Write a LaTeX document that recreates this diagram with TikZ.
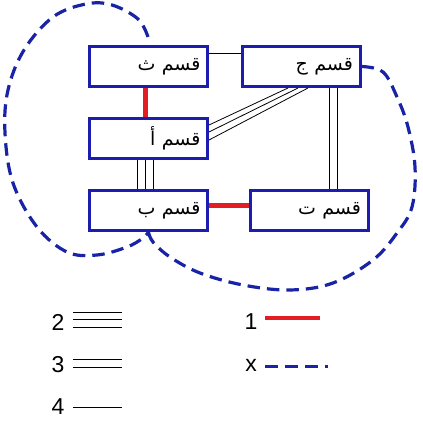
\documentclass[tikz,border=0pt]{standalone}
\usepackage{fontspec}
\setmainfont{Liberation Sans}
\newfontfamily\arabicfont[Script=Arabic]{DejaVu Sans}
\TeXXeTstate=1
\usetikzlibrary{calc}
\definecolor{boxblue}{RGB}{28,28,175}
\definecolor{dashblue}{RGB}{25,35,165}
\definecolor{linkred}{RGB}{228,28,36}
\begin{document}
\begin{tikzpicture}[x=1pt,y=1pt,
  secbox/.style={draw=boxblue,line width=3pt,minimum width=118pt,minimum height=40pt,
    inner sep=0pt,text width=104pt,align=right,font=\arabicfont\fontsize{19}{22}\selectfont},
  thin/.style={line width=0.8pt,black},
  redlink/.style={line width=5pt,linkred},
  dashlink/.style={dashblue,line width=3.2pt,dash pattern=on 12.5pt off 7pt},
  legnum/.style={font=\fontsize{23}{25}\selectfont,inner sep=0pt}]
\useasboundingbox (0,0) rectangle (423,426);
% sections
\node[secbox] (th) at (148.5,359.5) {\beginR قسم ث\endR};
\node[secbox] (jm) at (301,359.5) {\beginR قسم ج\endR};
\node[secbox] (al) at (148.5,287.5) {\beginR قسم أ\endR};
\node[secbox] (ba) at (148.5,215.5) {\beginR قسم ب\endR};
\node[secbox] (ta) at (309,215.5) {\beginR قسم ت\endR};
% single line th - jm
\draw[thin] ([yshift=13.5pt]th.east) -- ([yshift=13.5pt]jm.west);
% red links
\draw[redlink] ([xshift=-3.5pt]th.south) -- ([xshift=-3.5pt]al.north);
\draw[redlink] ([yshift=4.5pt]ba.east) -- ([yshift=4.5pt]ta.west);
% triple al - ba
\foreach \s in {-11.5,-3.5,4.5}
  \draw[thin] ([xshift=\s pt]al.south) -- ([xshift=\s pt]ba.north);
% double jm - ta
\foreach \s in {28,36}
  \draw[thin] ([xshift=\s pt]jm.south) -- ([xshift=\s pt-8pt]ta.north);
% triple jm - al
\draw[thin] ([xshift=-13pt]jm.south) -- ([yshift=13.5pt]al.east);
\draw[thin] ([xshift=-3pt]jm.south) -- ([yshift=6.5pt]al.east);
\draw[thin] ([xshift=7pt]jm.south) -- ([yshift=-1.5pt]al.east);
% dashed loops
\coordinate (ls) at (148,389);
\draw[dashlink] plot[smooth,tension=0.6] coordinates {(ls) (138,407) (112,421) (86,422) (53,409) (24,376) (8,336) (5,293) (13,243) (37,199) (67,174) (97,171) (127,179) (143,188) (ba.south)};
\draw[dashlink] plot[smooth,tension=0.6] coordinates {(jm.east) (383,354) (397,329) (408,299) (415,259) (412,219) (397,193) (373,166) (333,143) (290,136) (243,141) (200,153) (170,169) (153,184) (ba.south)};
% legend
\node[legnum] (n2) at (58,104) {2};
\node[legnum] (n3) at (58,61) {3};
\node[legnum] (n4) at (58,19) {4};
\node[legnum] (n1) at (251,104) {1};
\node[legnum] (nx) at (251,61) {x};
\foreach \y in {114,107,99} \draw[thin] (73,\y) -- (122,\y);
\foreach \y in {67,59} \draw[thin] (73,\y) -- (122,\y);
\draw[thin] (73,19) -- (122,19);
\draw[redlink,line width=4pt] (265,108) -- (320,108);
\draw[dashlink,line width=3pt,dash pattern=on 13pt off 7pt] (265,59) -- (328,59);
\end{tikzpicture}
\end{document}
